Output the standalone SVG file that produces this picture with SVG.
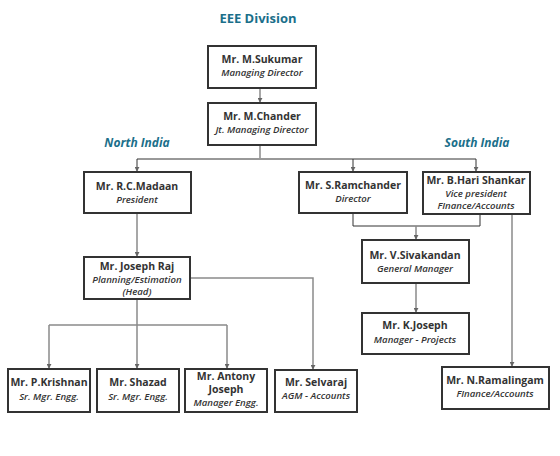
<svg xmlns="http://www.w3.org/2000/svg" width="560" height="456" viewBox="0 0 560 456">
<style>
.box{fill:#fff;stroke:#333;stroke-width:2}
.n{font-family:"Open Sans",sans-serif;font-size:10.5px;font-weight:700;fill:#333;text-anchor:middle}
.r{font-family:"Open Sans",sans-serif;font-size:9.6px;font-weight:600;font-style:italic;fill:#333;text-anchor:middle}
.t{font-family:"Open Sans",sans-serif;font-weight:700;fill:#1b6f8a;text-anchor:middle}
.g{fill:none;stroke:#8a8a8a;stroke-width:1.5}
.k{fill:none;stroke:#333;stroke-width:1}
</style>
<defs>
<marker id="a" viewBox="0 0 6 6" refX="5" refY="3" markerWidth="5" markerHeight="5" orient="auto" markerUnits="userSpaceOnUse">
<path d="M0,0 L6,3 L0,6 Z" fill="#666"/>
</marker>
</defs>
<rect width="560" height="456" fill="#fff"/>
<text class="t" x="258" y="23" font-size="13">EEE Division</text>
<text class="t" x="137" y="147" font-size="12" font-style="italic">North India</text>
<text class="t" x="477" y="147" font-size="12" font-style="italic">South India</text>
<g id="connectors">
<path class="g" d="M260,88 V102" marker-end="url(#a)"/>
<path class="g" d="M260,145 V158"/>
<path class="k" d="M137,159 H476"/>
<path class="k" d="M137,159 V171" marker-end="url(#a)"/>
<path class="k" d="M353,159 V171" marker-end="url(#a)"/>
<path class="k" d="M476,159 V171" marker-end="url(#a)"/>
<path class="g" d="M137,213 V256" marker-end="url(#a)"/>
<path class="k" d="M353,213 V226 H480 V214"/>
<path class="g" d="M416,226 V239" marker-end="url(#a)"/>
<path class="g" d="M416,283 V312" marker-end="url(#a)"/>
<path class="g" d="M512,214 V366" marker-end="url(#a)"/>
<path class="g" d="M190,278 H313 V369" marker-end="url(#a)"/>
<path class="g" d="M137,299 V325"/>
<path class="g" d="M49,325 H227"/>
<path class="g" d="M49,325 V368" marker-end="url(#a)"/>
<path class="g" d="M137,325 V368" marker-end="url(#a)"/>
<path class="g" d="M227,325 V368" marker-end="url(#a)"/>
</g>
<g id="sukumar"><rect class="box" x="208" y="46" width="108" height="42"/><text class="n" x="262" y="63">Mr. M.Sukumar</text><text class="r" x="262" y="76">Managing Director</text></g>
<g id="chander"><rect class="box" x="208" y="103" width="108" height="42"/><text class="n" x="262" y="120">Mr. M.Chander</text><text class="r" x="262" y="133">Jt. Managing Director</text></g>
<g id="madaan"><rect class="box" x="84" y="172" width="107" height="41"/><text class="n" x="137" y="190">Mr. R.C.Madaan</text><text class="r" x="137" y="203">President</text></g>
<g id="ramchander"><rect class="box" x="299" y="172" width="108" height="41"/><text class="n" x="353" y="189">Mr. S.Ramchander</text><text class="r" x="353" y="202">Director</text></g>
<g id="harishankar"><rect class="box" x="423" y="172" width="107" height="42"/><text class="n" x="476" y="184">Mr. B.Hari Shankar</text><text class="r" x="476" y="197">Vice president</text><text class="r" x="476" y="209">FInance/Accounts</text></g>
<g id="josephraj"><rect class="box" x="84" y="257" width="106" height="42"/><text class="n" x="137" y="270">Mr. Joseph Raj</text><text class="r" x="137" y="283">Planning/Estimation</text><text class="r" x="137" y="295">(Head)</text></g>
<g id="sivakandan"><rect class="box" x="362" y="240" width="107" height="43"/><text class="n" x="415" y="259">Mr. V.Sivakandan</text><text class="r" x="415" y="271.5">General Manager</text></g>
<g id="kjoseph"><rect class="box" x="362" y="313" width="107" height="41"/><text class="n" x="415" y="329">Mr. K.Joseph</text><text class="r" x="415" y="343">Manager - Projects</text></g>
<g id="krishnan"><rect class="box" x="8" y="369" width="82" height="43"/><text class="n" x="49" y="386">Mr. P.Krishnan</text><text class="r" x="49" y="400">Sr. Mgr. Engg.</text></g>
<g id="shazad"><rect class="box" x="97" y="369" width="82" height="43"/><text class="n" x="138" y="386">Mr. Shazad</text><text class="r" x="138" y="400">Sr. Mgr. Engg.</text></g>
<g id="antony"><rect class="box" x="185" y="369" width="82" height="43"/><text class="n" x="226" y="380">Mr. Antony</text><text class="n" x="226" y="392.5">Joseph</text><text class="r" x="226" y="405.5">Manager Engg.</text></g>
<g id="selvaraj"><rect class="box" x="275" y="370" width="82" height="42"/><text class="n" x="316" y="386">Mr. Selvaraj</text><text class="r" x="316" y="399">AGM - Accounts</text></g>
<g id="ramalingam"><rect class="box" x="442" y="367" width="107" height="42"/><text class="n" x="495" y="384">Mr. N.Ramalingam</text><text class="r" x="495" y="397">FInance/Accounts</text></g>
</svg>
